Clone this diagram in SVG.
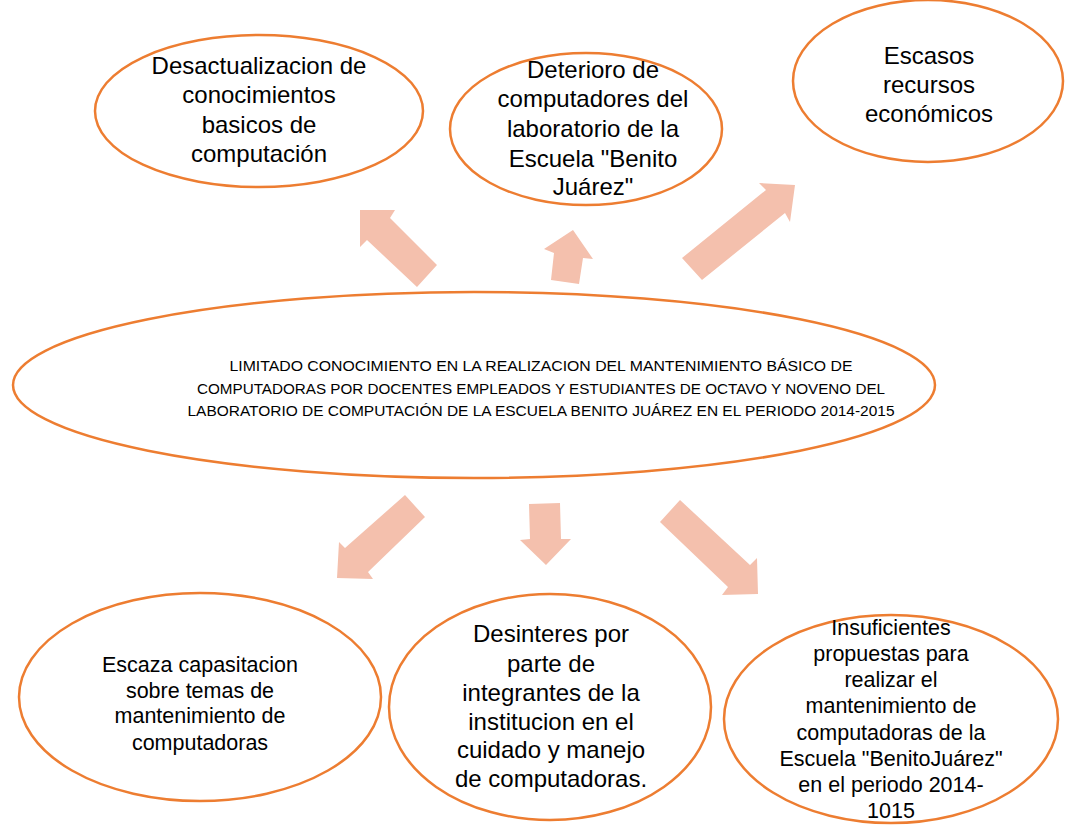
<svg xmlns="http://www.w3.org/2000/svg" width="1074" height="825" viewBox="0 0 1074 825">
<style>
.node ellipse{fill:#fff;stroke:#ED7D31;stroke-width:2.5}
.arrow{fill:#F4C0AD;stroke:none}
text{font-family:"Liberation Sans",Arial,sans-serif;fill:#000;text-anchor:middle}
.big{font-size:24px}
.med{font-size:21.5px}
.small{font-size:14px}
</style>
<rect width="1074" height="825" fill="#fff"/>
<g id="connectors">
<polygon class="arrow" points="360,210 395,210 390,218 437,265 417,287 367,240 360,247"/>
<polygon class="arrow" points="573,230 593,259 583,258 579,284 551,280 554,253 544,249"/>
<polygon class="arrow" points="795,185 759,183 766,190 682,258 702,280 785,213 790,222"/>
<polygon class="arrow" points="337,578 373,579 368,572 425,517 405,495 345,548 339,542"/>
<polygon class="arrow" points="546,565 571,539 561,539 560,503 529,504 530,539 520,540"/>
<polygon class="arrow" points="758,594 722,595 728,587 660,522 680,500 750,565 757,558"/>
</g>
<g id="node-desactualizacion" class="node">
<ellipse cx="259" cy="111" rx="164" ry="76"/>
<text class="big" x="259" y="74">Desactualizacion de</text>
<text class="big" x="259" y="103">conocimientos</text>
<text class="big" x="259" y="133">basicos de</text>
<text class="big" x="259" y="162">computación</text>
</g>
<g id="node-deterioro" class="node">
<ellipse cx="586" cy="129" rx="136" ry="76"/>
<text class="big" x="593" y="78">Deterioro de</text>
<text class="big" x="593" y="107">computadores del</text>
<text class="big" x="593" y="137">laboratorio de la</text>
<text class="big" x="593" y="167">Escuela "Benito</text>
<text class="big" x="593" y="195">Juárez"</text>
</g>
<g id="node-escasos" class="node">
<ellipse cx="928" cy="81" rx="135" ry="81"/>
<text class="big" x="929" y="64">Escasos</text>
<text class="big" x="929" y="93">recursos</text>
<text class="big" x="929" y="122">económicos</text>
</g>
<g id="node-central" class="node">
<ellipse cx="474" cy="385" rx="461" ry="93"/>
<text class="small" x="541" y="371" textLength="623" lengthAdjust="spacingAndGlyphs">LIMITADO CONOCIMIENTO EN LA REALIZACION DEL MANTENIMIENTO BÁSICO DE</text>
<text class="small" x="541" y="394" textLength="688" lengthAdjust="spacingAndGlyphs">COMPUTADORAS POR DOCENTES EMPLEADOS Y ESTUDIANTES DE OCTAVO Y NOVENO DEL</text>
<text class="small" x="541" y="416" textLength="707" lengthAdjust="spacingAndGlyphs">LABORATORIO DE COMPUTACIÓN DE LA ESCUELA BENITO JUÁREZ EN EL PERIODO 2014-2015</text>
</g>
<g id="node-escaza" class="node">
<ellipse cx="200" cy="697" rx="181" ry="104"/>
<text class="med" x="200" y="672">Escaza capasitacion</text>
<text class="med" x="200" y="698">sobre temas de</text>
<text class="med" x="200" y="723">mantenimiento de</text>
<text class="med" x="200" y="750">computadoras</text>
</g>
<g id="node-desinteres" class="node">
<ellipse cx="550" cy="707" rx="161" ry="113"/>
<text class="big" x="551" y="642">Desinteres por</text>
<text class="big" x="551" y="672">parte de</text>
<text class="big" x="551" y="701">integrantes de la</text>
<text class="big" x="551" y="730">institucion en el</text>
<text class="big" x="551" y="758">cuidado y manejo</text>
<text class="big" x="551" y="787">de computadoras.</text>
</g>
<g id="node-insuficientes" class="node">
<ellipse cx="891" cy="719" rx="167" ry="104"/>
<text class="med" x="891" y="635">Insuficientes</text>
<text class="med" x="891" y="661">propuestas para</text>
<text class="med" x="891" y="687">realizar el</text>
<text class="med" x="891" y="713">mantenimiento de</text>
<text class="med" x="891" y="740">computadoras de la</text>
<text class="med" x="891" y="766">Escuela "BenitoJuárez"</text>
<text class="med" x="891" y="792">en el periodo 2014-</text>
<text class="med" x="891" y="818">1015</text>
</g>
</svg>
